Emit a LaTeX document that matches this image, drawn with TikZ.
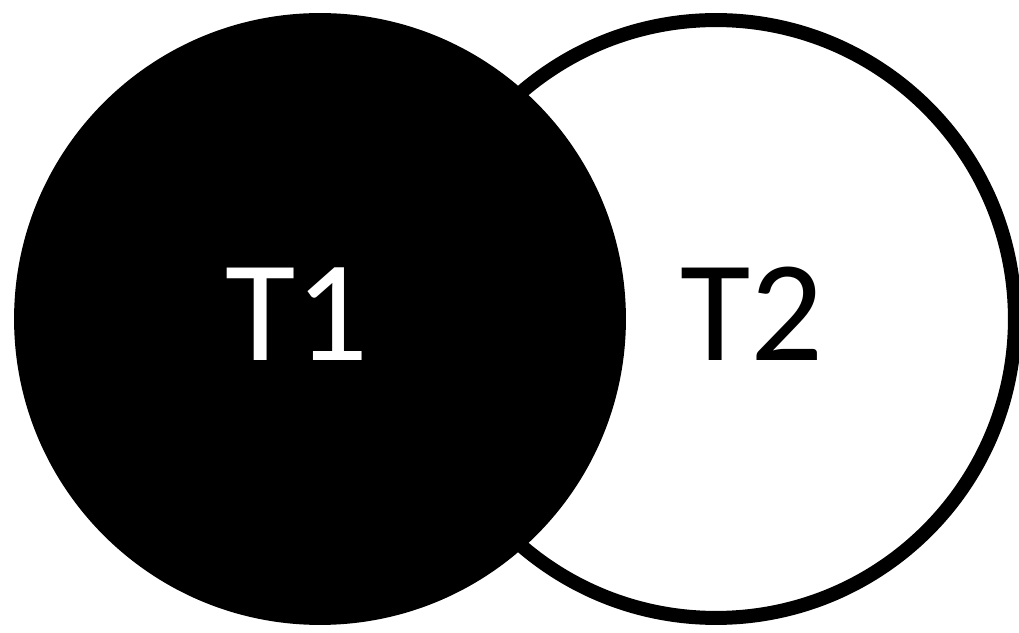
\documentclass[tikz,border=0pt]{standalone}
\usepackage{fontspec}
\setmainfont{Carlito}
\usepackage{tikz}
\usetikzlibrary{positioning}

\begin{document}
\begin{tikzpicture}[
    x=0.02cm, y=0.02cm,
    outer/.style={circle, draw=black, fill=white, line width=0.28cm, minimum size=11.96cm, inner sep=0pt},
    inner/.style={circle, fill=black, minimum size=12.24cm, inner sep=0pt},
    lbl/.style={anchor=base, inner sep=0pt, font=\fontsize{82}{82}\selectfont}
]
\useasboundingbox (0,0) rectangle (1019,633);
\node[outer] (B) at (716,314) {};
\node[inner] (A) at (320,314) {};
\node[lbl, text=white] (Alab) at (297,272) {T1};
\node[lbl] (Blab) at (752,272) {T2};
\end{tikzpicture}
\end{document}
